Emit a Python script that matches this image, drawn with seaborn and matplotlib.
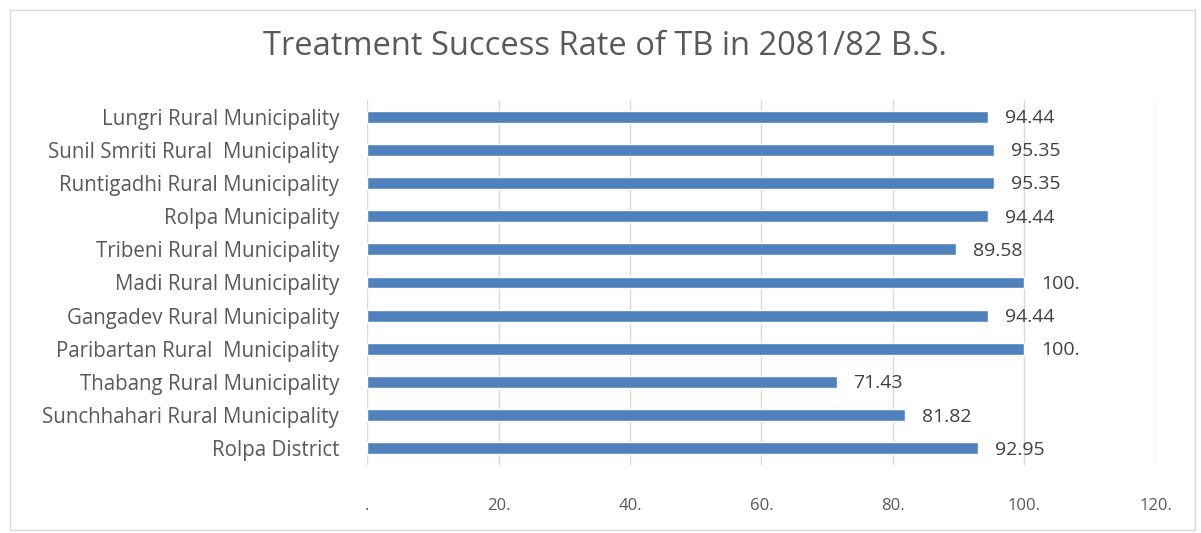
import matplotlib
matplotlib.use("Agg")
import matplotlib.pyplot as plt
import seaborn as sns
import pandas as pd
from matplotlib.patches import Rectangle

categories = [
    "Lungri Rural Municipality",
    "Sunil Smriti Rural  Municipality",
    "Runtigadhi Rural Municipality",
    "Rolpa Municipality",
    "Tribeni Rural Municipality",
    "Madi Rural Municipality",
    "Gangadev Rural Municipality",
    "Paribartan Rural  Municipality",
    "Thabang Rural Municipality",
    "Sunchhahari Rural Municipality",
    "Rolpa District",
]
values = [94.44, 95.35, 95.35, 94.44, 89.58, 100.0, 94.44, 100.0, 71.43, 81.82, 92.95]
value_labels = ["94.44", "95.35", "95.35", "94.44", "89.58", "100.", "94.44", "100.", "71.43", "81.82", "92.95"]
tick_values = [0, 20, 40, 60, 80, 100, 120]
tick_labels = [".", "20.", "40.", "60.", "80.", "100.", "120."]
title = "Treatment Success Rate of TB in 2081/82 B.S."

sns.set_theme(style="white")
plt.rcParams['font.family'] = ['Open Sans', 'DejaVu Sans']

df = pd.DataFrame({"cat": categories, "val": values})

fig = plt.figure(figsize=(12.01, 5.33), dpi=100)
ax = fig.add_axes([0.3056, 0.1276, 0.6569, 0.6848])

sns.barplot(data=df, y="cat", x="val", orient="h", color="#4F81BD",
            width=0.36, saturation=1, ax=ax, zorder=3)

ax.set_xlim(0, 120)
ax.set_ylim(10.5, -0.5)
ax.set_xticks(tick_values)
ax.set_xticklabels(tick_labels, color="#595959", fontsize=12)
ax.tick_params(axis="x", length=0, pad=24)
ax.tick_params(axis="y", length=0, pad=20, labelsize=14.8, labelcolor="#595959")
ax.set_xlabel("")
ax.set_ylabel("")
ax.grid(axis="x", color="#D9D9D9", linewidth=1, zorder=0)
for s in ax.spines.values():
    s.set_visible(False)

for i, (v, lab) in enumerate(zip(values, value_labels)):
    ax.annotate(lab, xy=(v, i), xytext=(12, -1), textcoords="offset points",
                va="center", ha="left", fontsize=14, color="#404040")

fig.text(0.504, 0.912, title, ha="center", va="center", fontsize=23.5, color="#595959")

fig.patches.append(Rectangle((0.008, 0.006), 0.987, 0.975, transform=fig.transFigure,
                             fill=False, edgecolor="#D9D9D9", linewidth=1))

fig.savefig("out.png", dpi=100)
